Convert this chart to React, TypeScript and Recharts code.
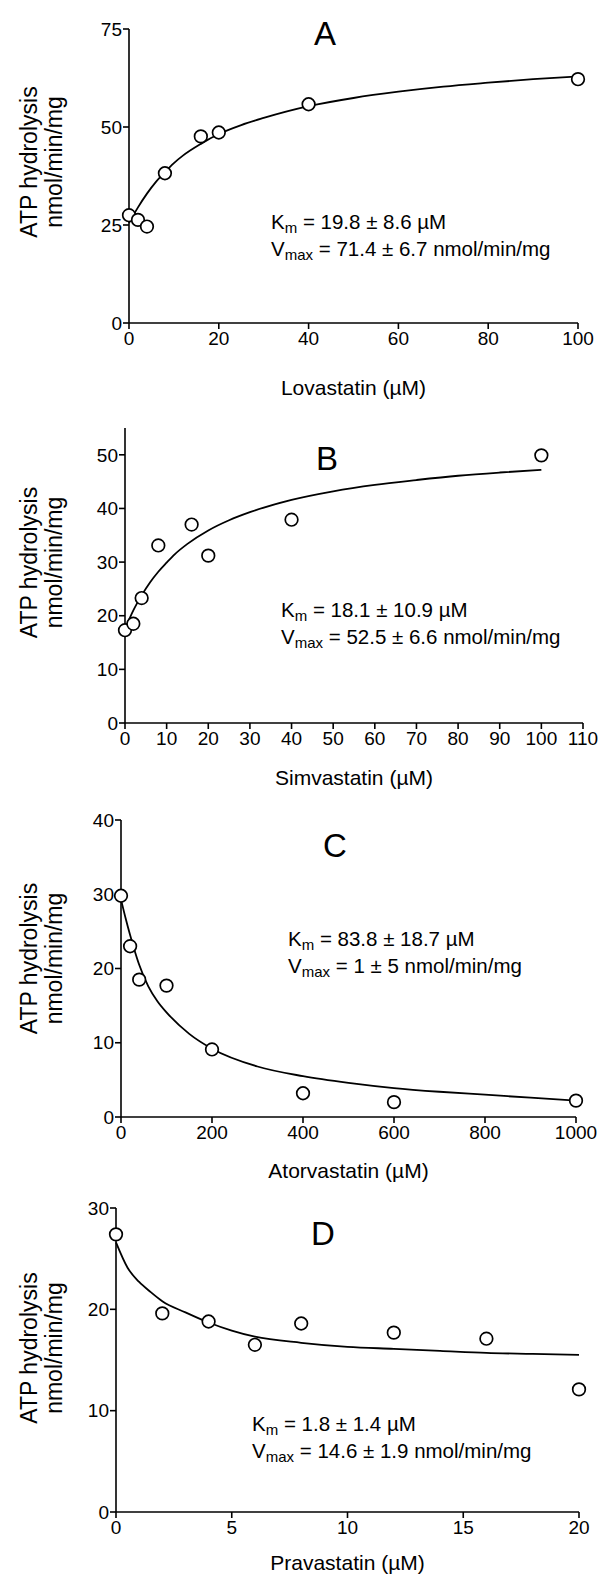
import React from 'react';
import { ComposedChart, Line, Scatter, XAxis, YAxis } from 'recharts';

const FONT = '"Liberation Sans", Arial, Helvetica, sans-serif';

// A: lovastatin
const lovaDose = [0, 2, 4, 8, 16, 20, 40, 100];
const lovaRate = [27.5, 26.3, 24.6, 38.2, 47.6, 48.6, 55.8, 62.2];
const lovaFitDose = [0, 2, 4, 6, 8, 10, 12, 16, 20, 25, 30, 40, 50, 60, 70, 80, 90, 100];
const lovaFitRate = [25.5, 29.5, 33, 36, 38.5, 40.8, 42.7, 45.7, 48.2, 50.5, 52.3, 55.3, 57.4, 59, 60.3, 61.3, 62.2, 62.9];
const lovaXTicks = [0, 20, 40, 60, 80, 100];
const lovaYTicks = [0, 25, 50, 75];

// B: simvastatin
const simvaDose = [0, 2, 4, 8, 16, 20, 40, 100];
const simvaRate = [17.3, 18.5, 23.3, 33.1, 37, 31.2, 37.9, 49.9];
const simvaFitDose = [0, 2, 4, 6, 8, 10, 12, 15, 20, 25, 30, 40, 50, 60, 70, 80, 90, 100];
const simvaFitRate = [17.5, 21, 23.8, 26.2, 28.2, 29.9, 31.5, 33.4, 35.9, 37.8, 39.3, 41.6, 43.2, 44.4, 45.3, 46.1, 46.7, 47.2];
const simvaXTicks = [0, 10, 20, 30, 40, 50, 60, 70, 80, 90, 100, 110];
const simvaYTicks = [0, 10, 20, 30, 40, 50];

// C: atorvastatin
const atorDose = [0, 20, 40, 100, 200, 400, 600, 1000];
const atorRate = [29.8, 23, 18.5, 17.7, 9.1, 3.2, 2.0, 2.2];
const atorFitDose = [0, 10, 20, 30, 40, 60, 80, 100, 150, 200, 300, 400, 500, 600, 700, 800, 900, 1000];
const atorFitRate = [29.3, 26.8, 24.5, 22.4, 20.5, 17.6, 15.6, 14.1, 11.2, 9.2, 6.8, 5.5, 4.6, 3.9, 3.4, 3.0, 2.6, 2.2];
const atorXTicks = [0, 200, 400, 600, 800, 1000];
const atorYTicks = [0, 10, 20, 30, 40];

// D: pravastatin
const pravaDose = [0, 2, 4, 6, 8, 12, 16, 20];
const pravaRate = [27.4, 19.6, 18.8, 16.5, 18.6, 17.7, 17.1, 12.1];
const pravaFitDose = [0, 0.5, 1, 1.5, 2, 3, 4, 5, 6, 8, 10, 12, 14, 16, 18, 20];
const pravaFitRate = [26.6, 24.1, 22.7, 21.7, 20.8, 19.7, 18.7, 17.9, 17.3, 16.7, 16.3, 16.1, 15.9, 15.7, 15.6, 15.5];
const pravaXTicks = [0, 5, 10, 15, 20];
const pravaYTicks = [0, 10, 20, 30];

const toRows = (xs: number[], ys: number[]) => xs.map((x, i) => ({ x, y: ys[i] }));

const panels = [
  {
    letter: 'A', drug: 'Lovastatin', km: '19.8 \u00b1 8.6 \u00b5M', vmax: '71.4 \u00b1 6.7 nmol/min/mg',
    points: toRows(lovaDose, lovaRate), fit: toRows(lovaFitDose, lovaFitRate),
    xTicks: lovaXTicks, yTicks: lovaYTicks, xMax: 100, yMax: 75,
    top: 0, height: 400, plotTop: 29, plotBottom: 323, plotLeft: 129, plotRight: 578,
    xTitleDy: 72, yTitleOff: -14, letterX: 325, letterY: 45, statsX: 271, statsY: 229,
  },
  {
    letter: 'B', drug: 'Simvastatin', km: '18.1 \u00b1 10.9 \u00b5M', vmax: '52.5 \u00b1 6.6 nmol/min/mg',
    points: toRows(simvaDose, simvaRate), fit: toRows(simvaFitDose, simvaFitRate),
    xTicks: simvaXTicks, yTicks: simvaYTicks, xMax: 110, yMax: 55,
    top: 400, height: 395, plotTop: 28, plotBottom: 323, plotLeft: 125, plotRight: 583,
    xTitleDy: 62, yTitleOff: -13, letterX: 327, letterY: 70, statsX: 281, statsY: 217,
  },
  {
    letter: 'C', drug: 'Atorvastatin', km: '83.8 \u00b1 18.7 \u00b5M', vmax: '1 \u00b1 5 nmol/min/mg',
    points: toRows(atorDose, atorRate), fit: toRows(atorFitDose, atorFitRate),
    xTicks: atorXTicks, yTicks: atorYTicks, xMax: 1000, yMax: 40,
    top: 790, height: 400, plotTop: 30, plotBottom: 327, plotLeft: 121, plotRight: 576,
    xTitleDy: 61, yTitleOff: -10, letterX: 335, letterY: 67, statsX: 288, statsY: 156,
  },
  {
    letter: 'D', drug: 'Pravastatin', km: '1.8 \u00b1 1.4 \u00b5M', vmax: '14.6 \u00b1 1.9 nmol/min/mg',
    points: toRows(pravaDose, pravaRate), fit: toRows(pravaFitDose, pravaFitRate),
    xTicks: pravaXTicks, yTicks: pravaYTicks, xMax: 20, yMax: 30,
    top: 1180, height: 401, plotTop: 28, plotBottom: 332, plotLeft: 116, plotRight: 579,
    xTitleDy: 58, yTitleOff: -12, letterX: 323, letterY: 65, statsX: 252, statsY: 251,
  },
];

const OpenCircle = (props: any) => (
  <circle cx={props.cx} cy={props.cy} r={6.3} fill="#fff" stroke="#000" strokeWidth={1.7} />
);

const XTitle = ({ viewBox, text, dy }: any) => {
  const vb = viewBox || { x: 0, y: 0, width: 0 };
  return (
    <text x={vb.x + vb.width / 2} y={vb.y + dy} textAnchor="middle" fontSize={21} fontFamily={FONT} fill="#000">
      {text}
    </text>
  );
};

const YTitle = ({ viewBox, off }: any) => {
  const vb = viewBox || { x: 0, y: 0, height: 0 };
  const cy = vb.y + vb.height / 2 + off;
  return (
    <g fontSize={23} fontFamily={FONT} fill="#000" textAnchor="middle">
      <text transform={`translate(37,${cy}) rotate(-90)`}>ATP hydrolysis</text>
      <text transform={`translate(62,${cy}) rotate(-90)`}>nmol/min/mg</text>
    </g>
  );
};

const Panel = ({ p }: any) => {
  const axisStyle = { stroke: '#000', strokeWidth: 1.6 };
  const tickStyle = { fill: '#000', fontSize: 19, fontFamily: FONT };
  return (
    <div style={{ position: 'absolute', left: 0, top: p.top, width: 601, height: p.height }}>
      <ComposedChart
        width={601}
        height={p.height}
        margin={{ top: p.plotTop, right: 601 - p.plotRight, bottom: 0, left: 0 }}
      >
        <XAxis
          type="number"
          dataKey="x"
          domain={[0, p.xMax]}
          ticks={p.xTicks}
          interval={0}
          height={p.height - p.plotBottom}
          axisLine={axisStyle}
          tickLine={axisStyle}
          tickSize={6}
          tickMargin={3}
          tick={tickStyle}
          label={<XTitle text={`${p.drug} (\u00b5M)`} dy={p.xTitleDy} />}
        />
        <YAxis
          type="number"
          dataKey="y"
          domain={[0, p.yMax]}
          ticks={p.yTicks}
          interval={0}
          width={p.plotLeft}
          axisLine={axisStyle}
          tickLine={axisStyle}
          tickSize={6}
          tickMargin={1}
          tick={tickStyle}
          label={<YTitle off={p.yTitleOff} />}
        />
        <Line
          data={p.fit}
          dataKey="y"
          type="monotone"
          dot={false}
          stroke="#000"
          strokeWidth={1.8}
          isAnimationActive={false}
        />
        <Scatter data={p.points} dataKey="y" shape={OpenCircle} isAnimationActive={false} />
      </ComposedChart>
      <svg
        width={601}
        height={p.height}
        style={{ position: 'absolute', left: 0, top: 0, pointerEvents: 'none' }}
      >
        <text x={p.letterX} y={p.letterY} textAnchor="middle" fontSize={33} fontFamily={FONT} fill="#000">
          {p.letter}
        </text>
        <g fontSize={20.5} fontFamily={FONT} fill="#000">
          <text x={p.statsX} y={p.statsY}>
            K<tspan fontSize={15} dy={4}>m</tspan>
            <tspan dy={-4}>{` = ${p.km}`}</tspan>
          </text>
          <text x={p.statsX} y={p.statsY + 27}>
            V<tspan fontSize={15} dy={4}>max</tspan>
            <tspan dy={-4}>{` = ${p.vmax}`}</tspan>
          </text>
        </g>
      </svg>
    </div>
  );
}

export default function App() {
  return (
    <div style={{ position: 'absolute', left: 0, top: 0, width: 601, height: 1581, background: '#fff' }}>
      {panels.map((p) => (
        <Panel key={p.letter} p={p} />
      ))}
    </div>
  );
}
